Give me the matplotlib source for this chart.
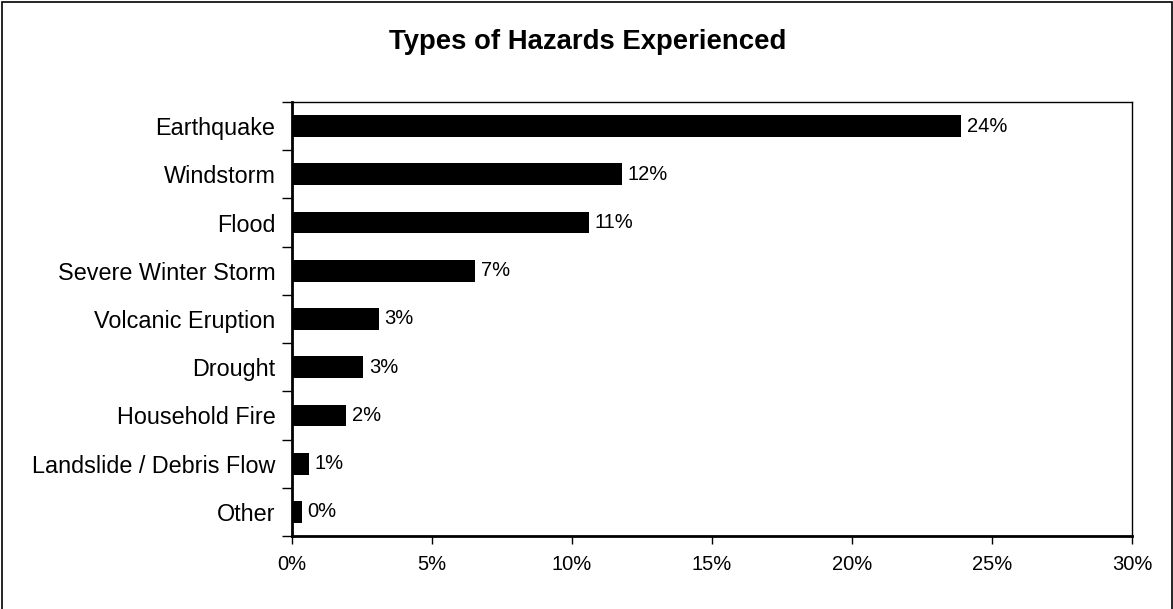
import matplotlib
matplotlib.use("Agg")
import matplotlib.pyplot as plt
from matplotlib.patches import Rectangle
from matplotlib.ticker import FuncFormatter, MultipleLocator

plt.rcParams['font.family'] = ['Liberation Sans', 'DejaVu Sans']

# Share of respondents reporting each hazard (percent)
hazards = ['Earthquake', 'Windstorm', 'Flood', 'Severe Winter Storm',
           'Volcanic Eruption', 'Drought', 'Household Fire',
           'Landslide / Debris Flow', 'Other']
shares = [23.9, 11.8, 10.6, 6.55, 3.1, 2.55, 1.94, 0.62, 0.36]

fig = plt.figure(figsize=(11.73, 6.09), dpi=100)
ax = fig.add_axes([0.2489, 0.1199, 0.9650 - 0.2489, 0.8325 - 0.1199])

pos = list(range(len(hazards)))
ax.barh(pos, shares, height=0.45, color='black')
ax.set_ylim(len(hazards) - 0.5, -0.5)
ax.set_xlim(0, 30)

for p, v in zip(pos, shares):
    ax.text(v + 0.2, p, f'{v:.0f}%', va='center', ha='left', fontsize=14.5)

# category names sit between the tick marks
ax.set_yticks(pos)
ax.set_yticklabels(hazards, fontsize=16.8)
ax.set_yticks([p - 0.5 for p in pos] + [len(hazards) - 0.5], minor=True)
ax.tick_params(axis='y', which='major', length=0, pad=12)
ax.tick_params(axis='y', which='minor', length=7, width=1, direction='out')

ax.xaxis.set_major_locator(MultipleLocator(5))
ax.xaxis.set_major_formatter(FuncFormatter(lambda x, _: f'{x:.0f}%'))
ax.tick_params(axis='x', length=6, width=1, direction='out', labelsize=14.5, pad=8)

for side in ['top', 'right']:
    ax.spines[side].set_linewidth(1)
for side in ['left', 'bottom']:
    ax.spines[side].set_linewidth(2)

fig.text(0.501, 1 - 49 / 609, 'Types of Hazards Experienced', ha='center',
         va='baseline', fontsize=19.8, fontweight='bold')

# chart area border
fig.patches.append(Rectangle((2 / 1173, -0.01), 1170 / 1173, 1.0 - 1.5 / 609 + 0.01,
                             transform=fig.transFigure, fill=False,
                             edgecolor='black', linewidth=1.2))

fig.savefig('out.png', dpi=100)
